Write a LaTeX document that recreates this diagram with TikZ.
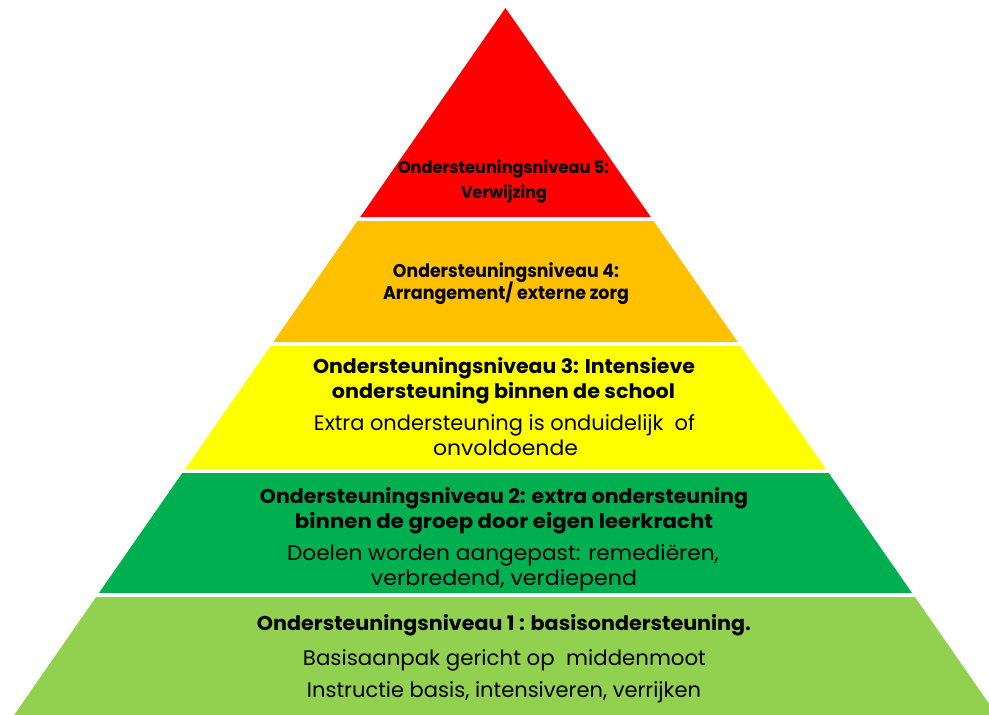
\documentclass[tikz,border=0pt]{standalone}
\usepackage{fontspec}
\setmainfont{Poppins}
\usepackage{graphicx}
\newcommand\fitw[2]{\resizebox{#1pt}{\height}{#2}}
\definecolor{lvred}{HTML}{FF0000}
\definecolor{lvorange}{HTML}{FFC000}
\definecolor{lvyellow}{HTML}{FFFF00}
\definecolor{lvgreen}{HTML}{00B050}
\definecolor{lvlight}{HTML}{92D050}
\newcommand\band[3]{%
  \fill[#3] ({505.5-0.695*(#1-8)},#1) -- ({505.5+0.695*(#1-8)},#1)
    -- ({505.5+0.695*(#2-8)},#2) -- ({505.5-0.695*(#2-8)},#2) -- cycle;}
\begin{document}
\begin{tikzpicture}[x=1pt,y=-1pt,
  hdr/.style={anchor=base,inner sep=0pt,font=\bfseries\fontsize{20}{24}\selectfont},
  hdrsmall/.style={anchor=base,inner sep=0pt,font=\bfseries\fontsize{17}{20}\selectfont},
  hdrmid/.style={anchor=base,inner sep=0pt,font=\bfseries\fontsize{18.5}{22}\selectfont},
  body/.style={anchor=base,inner sep=0pt,font=\fontsize{21}{25}\selectfont}]
\useasboundingbox (0,0) rectangle (989,715);
\clip (0,0) rectangle (989,715);
\fill[white] (0,0) rectangle (989,715);
\band{8}{217}{lvred}
\band{221}{342}{lvorange}
\band{346}{469}{lvyellow}
\band{473}{593}{lvgreen}
\band{597}{730}{lvlight}
% level 5
\node[hdrsmall] (t5a) at (503.5,173) {\fitw{211}{Ondersteuningsniveau 5:}};
\node[hdrsmall] (t5b) at (504,198) {\fitw{86}{Verwijzing}};
% level 4
\node[hdrmid] (t4a) at (506,277) {\fitw{226}{Ondersteuningsniveau 4:}};
\node[hdrmid] (t4b) at (506,299) {\fitw{246}{Arrangement/ externe zorg}};
% level 3
\node[hdr] (t3a) at (504,373) {\fitw{382}{Ondersteuningsniveau 3: Intensieve}};
\node[hdr] (t3b) at (503.5,398) {\fitw{343}{ondersteuning binnen de school}};
\node[body] (t3c) at (504.5,430) {\fitw{381}{Extra ondersteuning is onduidelijk\ \ of}};
\node[body] (t3d) at (505.5,455) {\fitw{145}{onvoldoende}};
% level 2
\node[hdr] (t2a) at (504,503) {\fitw{488}{Ondersteuningsniveau 2: extra ondersteuning}};
\node[hdr] (t2b) at (504,528) {\fitw{418}{binnen de groep door eigen leerkracht}};
\node[body] (t2c) at (503,560) {\fitw{432}{Doelen worden aangepast: remediëren,}};
\node[body] (t2d) at (504,585) {\fitw{266}{verbredend, verdiepend}};
% level 1
\node[hdr] (t1a) at (504,630) {\fitw{494}{Ondersteuningsniveau 1 : basisondersteuning.}};
\node[body] (t1b) at (504.5,665) {\fitw{403}{Basisaanpak gericht op\ \ middenmoot}};
\node[body] (t1c) at (504,697) {\fitw{394}{Instructie basis, intensiveren, verrijken}};
\end{tikzpicture}
\end{document}
